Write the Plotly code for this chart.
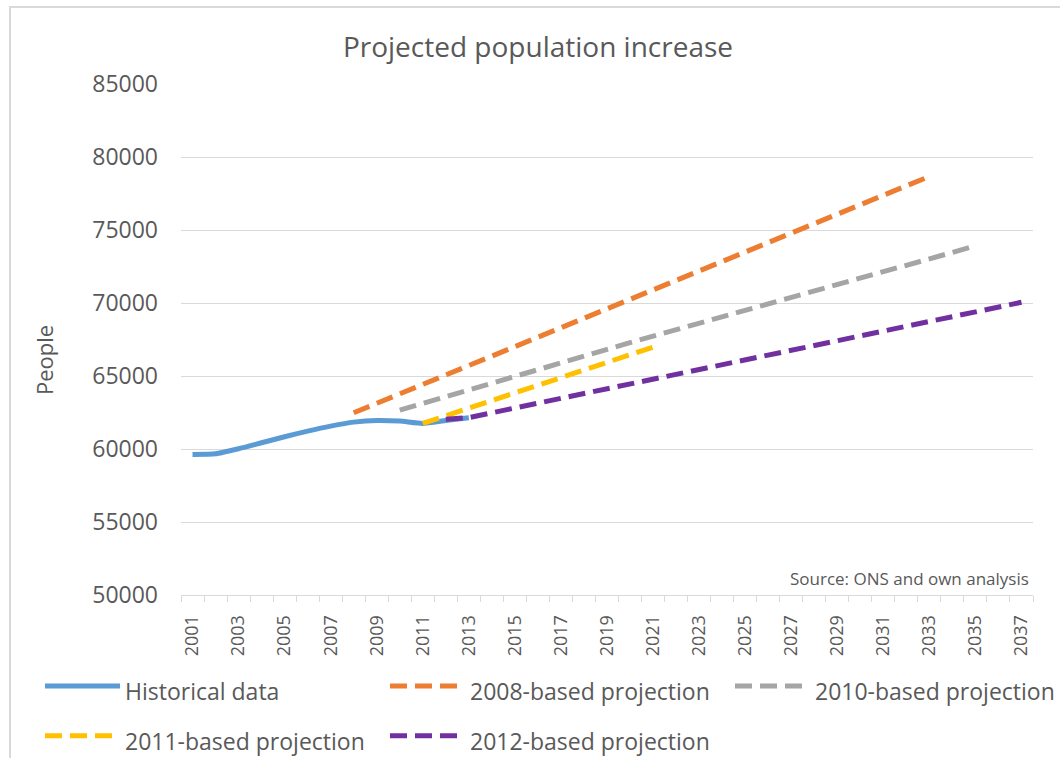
import plotly.graph_objects as go

years_hist = list(range(2001, 2014))
hist = [59625, 59670, 60016, 60427, 60840, 61223, 61565, 61840, 61957, 61910, 61750, 61950, 62140]

years_2008 = list(range(2008, 2034))
proj_2008 = [62480, 63130, 63780, 64430, 65080, 65730, 66380, 67030, 67680, 68330, 68970, 69610, 70250,
             70890, 71540, 72190, 72840, 73490, 74130, 74770, 75420, 76070, 76720, 77370, 78020, 78670]

years_2010 = list(range(2010, 2036))
proj_2010 = [62660, 63130, 63600, 64070, 64530, 64990, 65450, 65910, 66370, 66830, 67280, 67730, 68180,
             68630, 69080, 69520, 69960, 70400, 70840, 71280, 71720, 72150, 72580, 73010, 73460, 73910]

years_2011 = list(range(2011, 2022))
proj_2011 = [61750, 62280, 62810, 63330, 63850, 64370, 64890, 65410, 65930, 66460, 66980]

years_2012 = list(range(2012, 2038))
proj_2012 = [62030, 62150, 62480, 62810, 63140, 63470, 63800, 64130, 64460, 64790, 65120, 65450, 65780,
             66110, 66440, 66770, 67100, 67430, 67760, 68090, 68420, 68750, 69070, 69390, 69710, 70050]

all_years = list(range(2001, 2038))
tick_years = list(range(2001, 2038, 2))
tick_labels = [str(y) for y in tick_years]
y_ticks = [50000, 55000, 60000, 65000, 70000, 75000, 80000, 85000]
y_labels = [str(v) for v in y_ticks]

TXT = "#595959"
GRID = "#D9D9D9"
DASH = "17px,8px"
LEG_SPAN = '<span style="font-size:23px">{}</span>'

fig = go.Figure()
fig.add_trace(go.Scatter(x=years_hist, y=hist, mode="lines", name=LEG_SPAN.format("Historical data"),
                         line=dict(color="#5B9BD5", width=5, shape="spline", smoothing=0.5)))
fig.add_trace(go.Scatter(x=years_2008, y=proj_2008, mode="lines", name=LEG_SPAN.format("2008-based projection"),
                         line=dict(color="#ED7D31", width=5, dash=DASH)))
fig.add_trace(go.Scatter(x=years_2010, y=proj_2010, mode="lines", name=LEG_SPAN.format("2010-based projection"),
                         line=dict(color="#A5A5A5", width=5, dash=DASH)))
fig.add_trace(go.Scatter(x=years_2011, y=proj_2011, mode="lines", name=LEG_SPAN.format("2011-based projection"),
                         line=dict(color="#FFC000", width=5, dash=DASH)))
fig.add_trace(go.Scatter(x=years_2012, y=proj_2012, mode="lines", name=LEG_SPAN.format("2012-based projection"),
                         line=dict(color="#7030A0", width=5, dash=DASH)))

W, H = 1060, 758
ML, MR, MT, MB = 181, 27, 84, 163
pw, ph = W - ML - MR, H - MT - MB


def px_x(p):
    return (p - ML) / pw


def px_y(p):
    return (H - MB - p) / ph


fig.update_layout(
    width=W, height=H,
    margin=dict(l=ML, r=MR, t=MT, b=MB, pad=0, autoexpand=False),
    paper_bgcolor="white", plot_bgcolor="white",
    font=dict(family="Open Sans, sans-serif", color=TXT),
    title=dict(text="Projected population increase", x=538 / W, xanchor="center",
               y=1 - 47 / H, yanchor="middle",
               font=dict(size=28, color=TXT, family="Open Sans, sans-serif")),
    xaxis=dict(range=[2000.5, 2037.5], tickmode="array", tickvals=tick_years, ticktext=tick_labels,
               tickangle=-90, ticks="", showgrid=False, zeroline=False,
               showline=True, linecolor=GRID, linewidth=1,
               tickfont=dict(size=18, color=TXT), ticklabelstandoff=12,
               minor=dict(tickmode="array", tickvals=[y - 0.5 for y in all_years] + [2037.5],
                          ticks="outside", ticklen=6, tickcolor=GRID, tickwidth=1, showgrid=False)),
    yaxis=dict(range=[50000, 85000], tickmode="array", tickvals=y_ticks, ticktext=y_labels,
               showgrid=True, gridcolor=GRID, gridwidth=1, zeroline=False, showline=False,
               ticks="", tickfont=dict(size=23, color=TXT), ticklabelstandoff=22),
    showlegend=True,
    legend=dict(orientation="h", x=px_x(40), xanchor="left", y=px_y(656), yanchor="top",
                font=dict(size=36, color=TXT, family="Open Sans, sans-serif"),
                entrywidth=255, entrywidthmode="pixels", itemwidth=75, bgcolor="rgba(0,0,0,0)",
                tracegroupgap=0),
    annotations=[
        dict(text="Source: ONS and own analysis", xref="paper", yref="paper",
             x=px_x(1031), y=px_y(578), xanchor="right", yanchor="middle",
             showarrow=False, font=dict(size=17, color=TXT)),
        dict(text="People", xref="paper", yref="paper", x=px_x(44), y=px_y(360),
             xanchor="center", yanchor="middle", textangle=-90,
             showarrow=False, font=dict(size=22, color=TXT)),
    ],
    shapes=[dict(type="rect", xref="paper", yref="paper", x0=px_x(10), x1=px_x(1075),
                 y0=px_y(775), y1=px_y(7), line=dict(color="#D9D9D9", width=2), layer="below")],
)

fig.write_html("out.html")
